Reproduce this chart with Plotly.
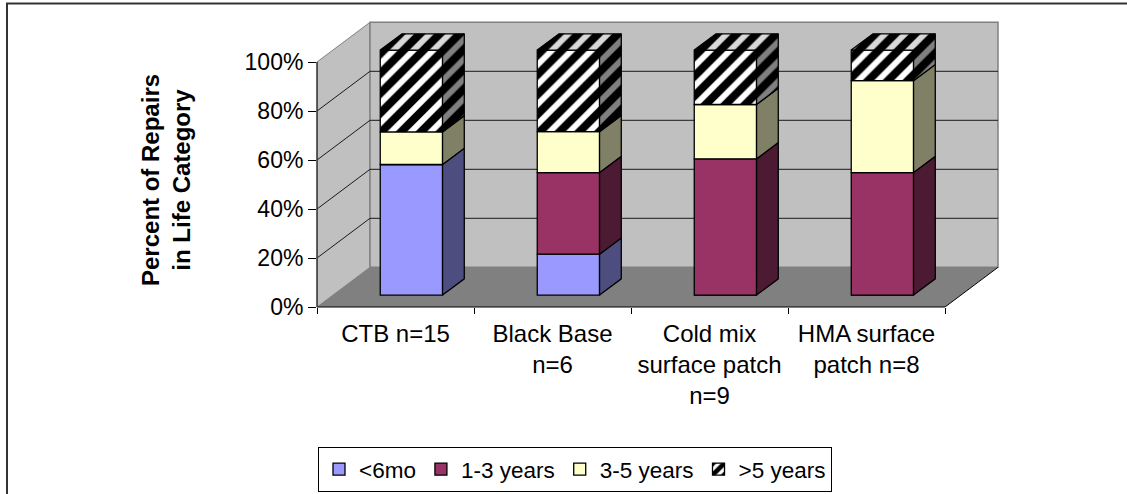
import plotly.graph_objects as go

# ---------------- data ----------------
categories = ["CTB n=15", "Black Base<br>n=6", "Cold mix<br>surface patch<br>n=9", "HMA surface<br>patch n=8"]
series_names = ["<6mo", "1-3 years", "3-5 years", ">5 years"]
lt_6mo = [53.3, 16.7, 0.0, 0.0]
yrs_1_3 = [0.0, 33.3, 55.6, 50.0]
yrs_3_5 = [13.3, 16.7, 22.2, 37.5]
gt_5yrs = [33.4, 33.3, 22.2, 12.5]
y_tick_vals = [0, 20, 40, 60, 80, 100]
y_tick_text = ["0%", "20%", "40%", "60%", "80%", "100%"]
y_title = "Percent of Repairs<br>in Life Category"

series_values = [lt_6mo, yrs_1_3, yrs_3_5, gt_5yrs]

# ---------------- style ----------------
FONT = "Liberation Sans, Arial, sans-serif"
front_colors = ["#9999FF", "#993366", "#FFFFCC", "#FFFFFF"]
side_colors = ["#4D4D80", "#4D1A33", "#808066", "#808080"]
top_colors = ["#7A7ACC", "#7A2952", "#CCCCA3", "#D9D9D9"]
patterned = [False, False, False, True]

W, H = 1127, 494
ML, MR, MT, MB = 317, 127, 18, 187
plot_w = W - ML - MR
plot_h = H - MT - MB
PX_PER_CAT = 157.0
PX_PER_PCT = 2.45

X0 = -0.5
XN = len(categories) - 0.5
DX, DY = 53.0 / PX_PER_CAT, 39.7 / PX_PER_PCT   # floor depth
F = 0.30      # front face depth position (fraction of floor depth)
G = 0.41      # bar depth (fraction of floor depth)
BW = 62.3 / PX_PER_CAT

x_range = [X0, X0 + plot_w / PX_PER_CAT]
y_range = [0, plot_h / PX_PER_PCT]

def pat(bg):
    return dict(shape="/", fgcolor="black", bgcolor=bg, size=14, solidity=0.58, fgopacity=1)

fig = go.Figure()

n = len(categories)
cum = [0.0] * n
bottoms = []
for k, vals in enumerate(series_values):
    bottoms.append(list(cum))
    cum = [c + v for c, v in zip(cum, vals)]

# front faces (bars)
for k, vals in enumerate(series_values):
    xs = [i + F * DX for i in range(n)]
    base = [b + F * DY for b in bottoms[k]]
    marker = dict(color=front_colors[k], line=dict(color="black", width=1.3))
    if patterned[k]:
        marker["pattern"] = pat("#FFFFFF")
    fig.add_trace(go.Bar(x=xs, y=vals, base=base, width=BW, name=series_names[k],
                         marker=marker, hoverinfo="skip"))

# side faces and top faces
gx, gy = G * DX, G * DY
for k, vals in enumerate(series_values):
    px, py = [], []
    tx, ty = [], []
    for i in range(n):
        if vals[i] <= 0:
            continue
        xr = i + F * DX + BW / 2
        xl = i + F * DX - BW / 2
        b = bottoms[k][i] + F * DY
        t = bottoms[k][i] + vals[i] + F * DY
        px += [xr, xr + gx, xr + gx, xr, xr, None]
        py += [b, b + gy, t + gy, t, b, None]
        is_top = all(series_values[j][i] <= 0 for j in range(k + 1, len(series_values)))
        if is_top:
            tx += [xl, xr, xr + gx, xl + gx, xl, None]
            ty += [t, t, t + gy, t + gy, t, None]
    for xs_, ys_, col in ((px, py, side_colors[k]), (tx, ty, top_colors[k])):
        if not xs_:
            continue
        kw = dict(x=xs_, y=ys_, mode="lines", fill="toself", fillcolor=col,
                  line=dict(color="black", width=1.3), showlegend=False, hoverinfo="skip")
        if patterned[k]:
            kw["fillpattern"] = pat(col)
        fig.add_trace(go.Scatter(**kw))

# ---------------- walls / floor ----------------
shapes = []
WALL = "#C0C0C0"
FLOOR = "#808080"
EDGE = "#808080"
shapes.append(dict(type="path", xref="x", yref="y", layer="below",
                   path=f"M {X0},0 L {X0+DX},{DY} L {X0+DX},{100+DY} L {X0},100 Z",
                   fillcolor=WALL, line=dict(color=EDGE, width=1)))
shapes.append(dict(type="rect", xref="x", yref="y", layer="below",
                   x0=X0 + DX, x1=XN + DX, y0=DY, y1=100 + DY,
                   fillcolor=WALL, line=dict(color=EDGE, width=1.5)))
shapes.append(dict(type="path", xref="x", yref="y", layer="below",
                   path=f"M {X0},0 L {XN},0 L {XN+DX},{DY} L {X0+DX},{DY} Z",
                   fillcolor=FLOOR, line=dict(width=0)))
for v in y_tick_vals[1:-1]:
    shapes.append(dict(type="line", xref="x", yref="y", layer="below",
                       x0=X0 + DX, x1=XN + DX, y0=v + DY, y1=v + DY,
                       line=dict(color="#1a1a1a", width=1)))
    shapes.append(dict(type="line", xref="x", yref="y", layer="below",
                       x0=X0, x1=X0 + DX, y0=v, y1=v + DY,
                       line=dict(color="#1a1a1a", width=1)))
shapes.append(dict(type="line", xref="x", yref="y", layer="below",
                   x0=XN, x1=XN + DX, y0=0, y1=DY, line=dict(color="black", width=1)))
shapes.append(dict(type="line", xref="x", yref="paper", layer="above",
                   x0=X0, x1=XN, y0=0, y1=0, line=dict(color="black", width=1.2)))
shapes.append(dict(type="line", xref="paper", yref="y", layer="above",
                   x0=0, x1=0, y0=0, y1=100, line=dict(color="#333333", width=1.5)))

def pxx(p):
    return (p - ML) / plot_w
def pxy(p):
    return (H - MB - p) / plot_h
shapes.append(dict(type="rect", xref="paper", yref="paper", layer="above",
                   x0=pxx(7), x1=pxx(1145), y0=pxy(515), y1=pxy(3.5),
                   line=dict(color="#333333", width=2), fillcolor="rgba(0,0,0,0)"))

fig.update_layout(
    width=W, height=H,
    margin=dict(l=ML, r=MR, t=MT, b=MB, autoexpand=False),
    paper_bgcolor="white", plot_bgcolor="white",
    barmode="overlay",
    shapes=shapes,
    font=dict(family=FONT, color="black", size=24),
    showlegend=True,
    legend=dict(orientation="h", xref="container", yref="container",
                x=318 / W, y=1 - 447 / H, xanchor="left", yanchor="top",
                bordercolor="black", borderwidth=1, bgcolor="white",
                font=dict(family=FONT, size=22.5, color="black"),
                traceorder="normal", itemwidth=30),
    annotations=[dict(text=y_title, textangle=-90, x=pxx(166), y=pxy(180),
                      xref="paper", yref="paper", showarrow=False,
                      xanchor="center", yanchor="middle",
                      font=dict(family=FONT, size=24, color="black", weight="bold"))],
)

fig.update_xaxes(range=x_range, tickmode="array", tickvals=list(range(n)), ticktext=categories,
                 ticks="", showgrid=False, zeroline=False, showline=False,
                 ticklabelstandoff=10,
                 tickfont=dict(family=FONT, size=24, color="black"),
                 minor=dict(tickmode="array", tickvals=[X0 + i for i in range(n + 1)],
                            ticks="outside", ticklen=6, tickcolor="black", tickwidth=1,
                            showgrid=False))
fig.update_yaxes(range=y_range, tickmode="array", tickvals=y_tick_vals, ticktext=y_tick_text,
                 ticks="outside", ticklen=8, tickcolor="black", tickwidth=1,
                 showgrid=False, zeroline=False, showline=False,
                 tickfont=dict(family=FONT, size=23, color="black"))

fig.write_html("out.html", config={"displayModeBar": False},
               post_script="document.body.style.margin='0px';")
